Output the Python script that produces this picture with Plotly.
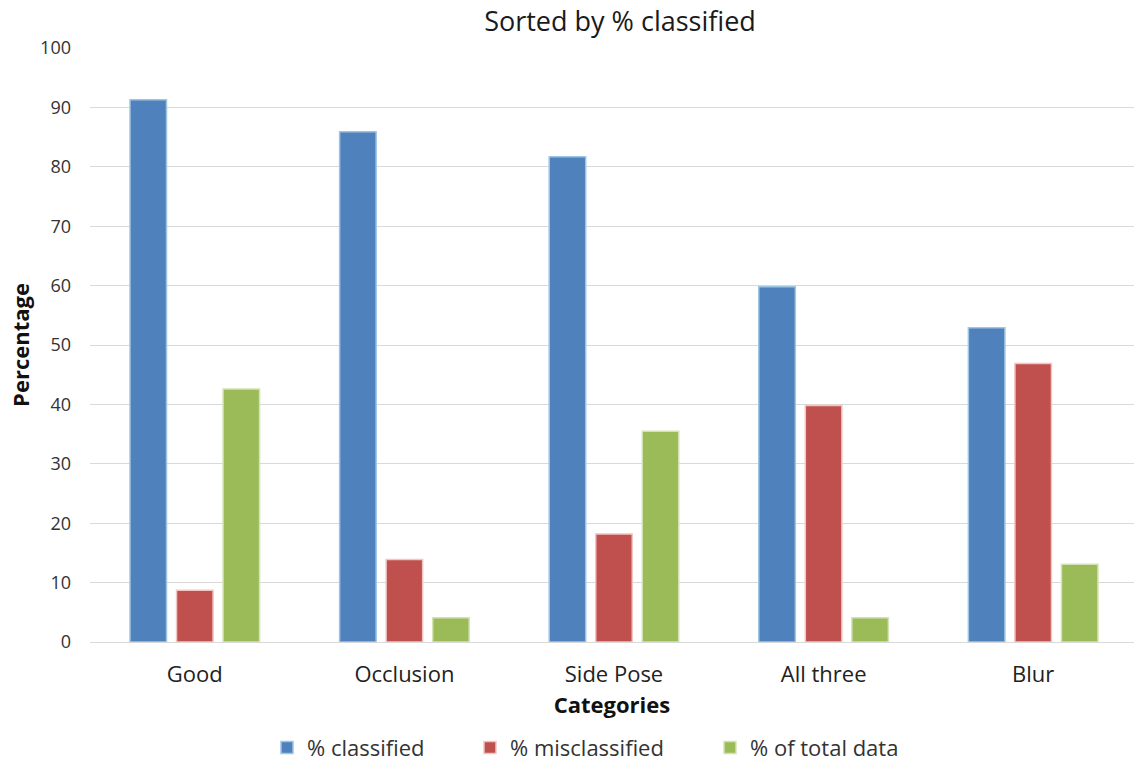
import plotly.graph_objects as go

categories = ["Good", "Occlusion", "Side Pose", "All three", "Blur"]
pct_classified = [91.3, 85.9, 81.7, 59.8, 52.9]
pct_misclassified = [8.7, 13.9, 18.2, 39.8, 46.9]
pct_total_data = [42.6, 4.1, 35.5, 4.1, 13.1]
y_ticks = list(range(0, 101, 10))

series = [
    ("% classified", pct_classified, "#4F81BD", "#9DC6E3", "legend"),
    ("% misclassified", pct_misclassified, "#C0504D", "#F2C4C2", "legend2"),
    ("% of total data", pct_total_data, "#9BBB59", "#D4E3B5", "legend3"),
]

FONT = "'Open Sans', sans-serif"
W, H = 1134, 762
ML, MR, MT, MB = 90, 0, 48, 120
PW = W - ML - MR


def legend_box(px):
    """Legend placed at an absolute pixel column below the axis."""
    return dict(orientation="h", x=(px - ML) / PW, xanchor="left",
                y=-0.178, yanchor="middle", bgcolor="rgba(0,0,0,0)",
                font=dict(family=FONT, size=22, color="#333"), itemwidth=30)


fig = go.Figure()
for name, vals, color, edge, leg in series:
    fig.add_trace(go.Bar(
        name=name, x=categories, y=vals, legend=leg,
        marker=dict(color=color, line=dict(color=edge, width=1.5)),
    ))

fig.update_layout(
    width=W, height=H,
    margin=dict(l=ML, r=MR, t=MT, b=MB, autoexpand=False),
    paper_bgcolor="white", plot_bgcolor="white",
    font=dict(family=FONT, size=18, color="#404040"),
    title=dict(text="Sorted by % classified", xref="container", x=620 / W,
               xanchor="center", y=1 - 22 / H, yanchor="middle",
               font=dict(size=27, color="#1a1a1a")),
    barmode="group", bargap=0.334, bargroupgap=0.215,
    showlegend=True,
    legend=legend_box(267),
    legend2=legend_box(470),
    legend3=legend_box(710),
    xaxis=dict(
        title=dict(text="<b>Categories</b>", font=dict(size=22, color="#111"), standoff=10),
        range=[-0.5, 4.481],
        showline=True, linecolor="#D9D9D9", linewidth=1,
        ticks="", ticklabelstandoff=13, tickfont=dict(size=22, color="#222"),
    ),
    yaxis=dict(
        title=dict(text="<b>Percentage</b>", font=dict(size=22, color="#111"), standoff=4),
        range=[0, 100], tickvals=y_ticks, showgrid=True, gridcolor="#D9D9D9",
        gridwidth=1, zeroline=False, ticks="", ticklabelstandoff=18,
        tickfont=dict(size=18, color="#333"),
    ),
)

fig.write_html("out.html")
